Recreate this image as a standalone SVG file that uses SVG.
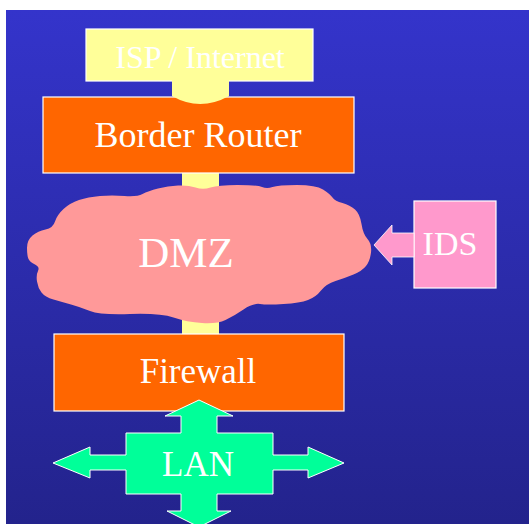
<svg xmlns="http://www.w3.org/2000/svg" width="529" height="524" viewBox="0 0 529 524">
<defs>
<linearGradient id="bg" x1="0" y1="0" x2="0" y2="1">
<stop offset="0" stop-color="#3434cb"/>
<stop offset="1" stop-color="#23238c"/>
</linearGradient>
</defs>
<style>
.lbl{font-family:"Liberation Serif","Times New Roman",serif;fill:#ffffff;text-anchor:middle}
.box{stroke:#ffffff;stroke-width:1.2}
.orange{fill:#ff6600}
.yel{fill:#ffff99}
</style>
<rect x="0" y="0" width="529" height="524" fill="#ffffff"/>
<rect x="6" y="10" width="523" height="514" fill="url(#bg)"/>
<g id="connectors">
<path class="yel" d="M172 80 H229 V96 Q200 112 172 96 Z"/>
<rect class="yel" x="182" y="172" width="37" height="24"/>
<rect class="yel" x="182" y="318" width="37" height="17"/>
</g>
<g id="isp">
<rect class="box yel" x="86" y="29" width="227" height="52"/>
<path class="yel" d="M172 80 H229 V90 H172 Z"/>
<text class="lbl" x="200" y="68" font-size="32">ISP / Internet</text>
</g>
<g id="border-router">
<rect class="box orange" x="43" y="97" width="311" height="76"/>
<path class="yel" d="M172 96 H229 Q200 112 172 96 Z"/>
<text class="lbl" x="198" y="147" font-size="36">Border Router</text>
</g>
<g id="dmz">
<path fill="#ff9999" d="M27 248 Q27 240 32.5 235.5 Q38 231 45.5 229.5 Q53 228 55 221.5 Q57 215 63.5 209 Q70 203 79 200 Q88 197 100 196 Q112 195 124.5 196 Q137 197 142.5 194 Q148 191 158 188.5 Q168 186 178 185.5 Q188 185 195.5 187.5 Q203 190 210.5 187.5 Q218 185 237.5 185 Q257 185 262 187 Q267 189 272.5 187 Q278 185 297 185 Q316 185 323 189.5 Q330 194 332.5 197.5 Q335 201 342.5 203 Q350 205 355 209.5 Q360 214 361.5 224 Q363 234 367.5 239 Q372 244 371 252.5 Q370 261 366 266 Q362 271 353.5 274.5 Q345 278 335.5 281 Q326 284 321 290.5 Q316 297 308 300 Q300 303 283.5 304 Q267 305 260 304 Q253 303 243.5 309.5 Q234 316 225.5 320 Q217 324 202 323 Q187 322 173.5 317.5 Q160 313 130 314 Q100 315 90 311 Q80 307 71 304.5 Q62 302 53.5 299.5 Q45 297 41.5 292.5 Q38 288 37 281.5 Q36 275 38 271 Q40 267 35 264.5 Q30 262 28.5 259 Q27 256 27 248 Z"/>
<text class="lbl" x="186" y="267" font-size="43">DMZ</text>
</g>
<g id="ids">
<rect class="box" fill="#ff99cc" x="414" y="201" width="82" height="87"/>
<polygon fill="#ff99cc" stroke="#ffffff" stroke-width="0.8" points="374,245 392,225 392,233 414,233 414,257 392,257 392,265"/>
<text class="lbl" x="450" y="255" font-size="34">IDS</text>
</g>
<g id="firewall">
<rect class="box orange" x="54" y="334" width="290" height="77"/>
<text class="lbl" x="198" y="383" font-size="35">Firewall</text>
</g>
<g id="lan">
<polygon fill="#00ff99" stroke="#ffffff" stroke-width="1" points="199,400 233,416 217,416 217,433 273,433 273,455 308,455 308,447 344,463 308,478 308,470 273,470 273,494 217,494 217,511 231,511 199,527 167,511 181,511 181,494 126,494 126,470 90,470 90,478 53,463 90,447 90,455 126,455 126,433 181,433 181,416 165,416"/>
<text class="lbl" x="198" y="476" font-size="35">LAN</text>
</g>
</svg>
